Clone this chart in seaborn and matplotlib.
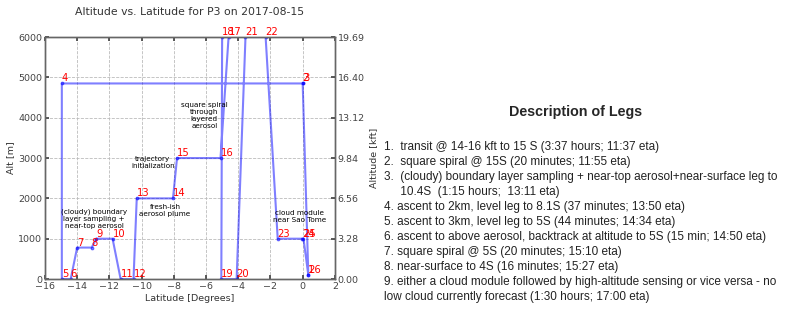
import numpy as np
import pandas as pd
import matplotlib
matplotlib.use("Agg")
import matplotlib.pyplot as plt
import seaborn as sns

# flight track waypoints (leg points)
point_id = list(range(1, 27))
lat = [0.35, 0.0, 0.05, -14.95, -14.95, -14.4, -14.0, -13.1, -12.8, -11.8,
       -11.3, -10.5, -10.3, -8.05, -7.8, -5.1, -4.6, -5.0, -5.05, -4.1,
       -3.55, -2.3, -1.55, -0.05, 0.05, 0.35]
alt = [100, 4850, 4850, 4850, 0, 0, 780, 780, 1000, 1000,
       0, 0, 2000, 2000, 3000, 3000, 6000, 6000, 0, 0,
       6000, 6000, 1000, 1000, 1000, 100]

notes = ["square spiral\nthrough\nlayered\naerosol",
         "trajectory\ninitialization",
         "fresh-ish\naerosol plume",
         "(cloudy) boundary\nlayer sampling +\nnear-top aerosol",
         "cloud module\nnear Sao Tome"]
note_lat = [-6.1, -9.3, -8.55, -12.95, -0.2]
note_alt = [4050, 2900, 1700, 1500, 1550]

legs = [
    "1.  transit @ 14-16 kft to 15 S (3:37 hours; 11:37 eta)",
    "2.  square spiral @ 15S (20 minutes; 11:55 eta)",
    "3.  (cloudy) boundary layer sampling + near-top aerosol+near-surface leg to",
    "     10.4S  (1:15 hours;  13:11 eta)",
    "4. ascent to 2km, level leg to 8.1S (37 minutes; 13:50 eta)",
    "5. ascent to 3km, level leg to 5S (44 minutes; 14:34 eta)",
    "6. ascent to above aerosol, backtrack at altitude to 5S (15 min; 14:50 eta)",
    "7. square spiral @ 5S (20 minutes; 15:10 eta)",
    "8. near-surface to 4S (16 minutes; 15:27 eta)",
    "9. either a cloud module followed by high-altitude sensing or vice versa - no",
    "low cloud currently forecast (1:30 hours; 17:00 eta)",
]

df = pd.DataFrame({"Latitude": lat, "Alt": alt, "pt": point_id})

sns.set_theme(style="whitegrid")
plt.rcParams["font.family"] = ["DejaVu Sans"]

fig = plt.figure(figsize=(7.88, 3.09), dpi=100)
ax = fig.add_axes([0.057, 0.097, 0.368, 0.783])
ax.set_facecolor("white")

sns.lineplot(data=df, x="Latitude", y="Alt", sort=False, estimator=None,
             color="blue", alpha=0.5, lw=1.5, marker=".", markersize=4,
             markeredgecolor="blue", ax=ax)

# red waypoint numbers
for x, y, p in zip(df["Latitude"], df["Alt"], df["pt"]):
    ax.text(x, y, str(p), color="red", fontsize=7.2, ha="left", va="bottom")

for t, x, y in zip(notes, note_lat, note_alt):
    ax.text(x, y, t, fontsize=5.2, ha="center", va="center", color="black")

ax.set_xlim(-16, 2)
ax.set_ylim(0, 6000)
ax.set_xticks(np.arange(-16, 3, 2))
ax.set_yticks(np.arange(0, 6001, 1000))
ax.set_xlabel("Latitude [Degrees]", fontsize=6.8, color="#333333", labelpad=2)
ax.set_ylabel("Alt [m]", fontsize=6.8, color="#333333", labelpad=2)
ax.set_title("Altitude vs. Latitude for P3 on 2017-08-15", fontsize=7.8,
             color="#333333", pad=16)
ax.grid(True, ls="--", color="#bbbbbb", lw=0.6)
ax.tick_params(labelsize=6.8, colors="#444444", direction="in", length=3,
               left=True, bottom=True, top=True, pad=2)
for s in ax.spines.values():
    s.set_color("#666666")
    s.set_linewidth(1.0)

ax2 = ax.twinx()
ax2.set_ylim(0, 6000 * 3.28084 / 1000)
ax2.set_yticks(np.arange(0, 7) * 3.28084)
ax2.set_yticklabels([f"{v:.2f}" for v in np.arange(0, 7) * 3.28084])
ax2.grid(False)
ax2.tick_params(labelsize=6.8, colors="#444444", direction="in", length=3,
                right=True, pad=2)
ax2.set_ylabel("Altitude [kft]", fontsize=6.8, color="#333333", labelpad=3)
for s in ax2.spines.values():
    s.set_color("#666666")
    s.set_linewidth(1.0)

fig.text(0.73, 0.638, "Description of Legs", fontsize=10.3, fontweight="bold",
         family="Liberation Sans", ha="center", va="center")
y0 = 1 - 147 / 309
for i, line in enumerate(legs):
    fig.text(0.487, y0 - i * 15 / 309, line, fontsize=8.5,
             family="Liberation Sans", ha="left", va="center", color="#222222")

fig.savefig("out.png", dpi=100)
